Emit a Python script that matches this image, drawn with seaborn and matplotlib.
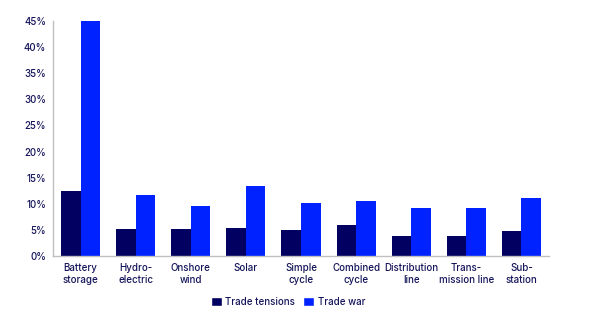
import matplotlib
matplotlib.use("Agg")
import matplotlib.pyplot as plt
import seaborn as sns
import pandas as pd
from matplotlib.ticker import FuncFormatter, MultipleLocator
from matplotlib.patches import Patch

categories = ["Battery\nstorage", "Hydro-\nelectric", "Onshore\nwind", "Solar", "Simple\ncycle",
              "Combined\ncycle", "Distribution\nline", "Trans-\nmission line", "Sub-\nstation"]
trade_tensions = [12.4, 5.1, 5.2, 5.4, 4.9, 5.9, 3.8, 3.8, 4.7]
trade_war = [45.2, 11.6, 9.6, 13.5, 10.2, 10.5, 9.1, 9.2, 11.2]
series_names = ["Trade tensions", "Trade war"]
colors = ["#020060", "#0022ff"]

df = pd.DataFrame({
    "category": categories * 2,
    "value": trade_tensions + trade_war,
    "series": [series_names[0]] * len(categories) + [series_names[1]] * len(categories),
})

sns.set_theme(style="white")
plt.rcParams["font.family"] = ["Inter", "DejaVu Sans"]
plt.rcParams["font.weight"] = "medium"
text_color = "#14145a"

fig = plt.figure(figsize=(6, 3.2), dpi=100)
ax = fig.add_axes([53/600, 1 - 256/320, 496/600, 235/320])
sns.barplot(data=df, x="category", y="value", hue="series", palette=colors,
            width=0.71, saturation=1, ax=ax, legend=False, linewidth=0)

ax.set_ylim(0, 45)
ax.set_xlim(-0.5, len(categories) - 0.5)
ax.yaxis.set_major_locator(MultipleLocator(5))
ax.yaxis.set_major_formatter(FuncFormatter(lambda v, p: f"{v:.0f}%"))
ax.set_xlabel("")
ax.set_ylabel("")
ax.tick_params(axis="both", labelsize=7, colors=text_color, length=0)
ax.tick_params(axis="y", pad=5)
ax.tick_params(axis="x", pad=5)
for lbl in ax.get_xticklabels() + ax.get_yticklabels():
    lbl.set_color(text_color)
for s in ["top", "right"]:
    ax.spines[s].set_visible(False)
for s in ["left", "bottom"]:
    ax.spines[s].set_color("#c0c0c0")
    ax.spines[s].set_linewidth(1)

handles = [Patch(facecolor=c, label=n) for c, n in zip(colors, series_names)]
leg = fig.legend(handles=handles, loc="center", bbox_to_anchor=(288/600, 1 - 302/320),
                 ncol=2, frameon=False, fontsize=7, handlelength=1.1, handleheight=1.1,
                 handletextpad=0.4, columnspacing=0.8)
for t in leg.get_texts():
    t.set_color(text_color)

fig.savefig("out.png", dpi=100)
